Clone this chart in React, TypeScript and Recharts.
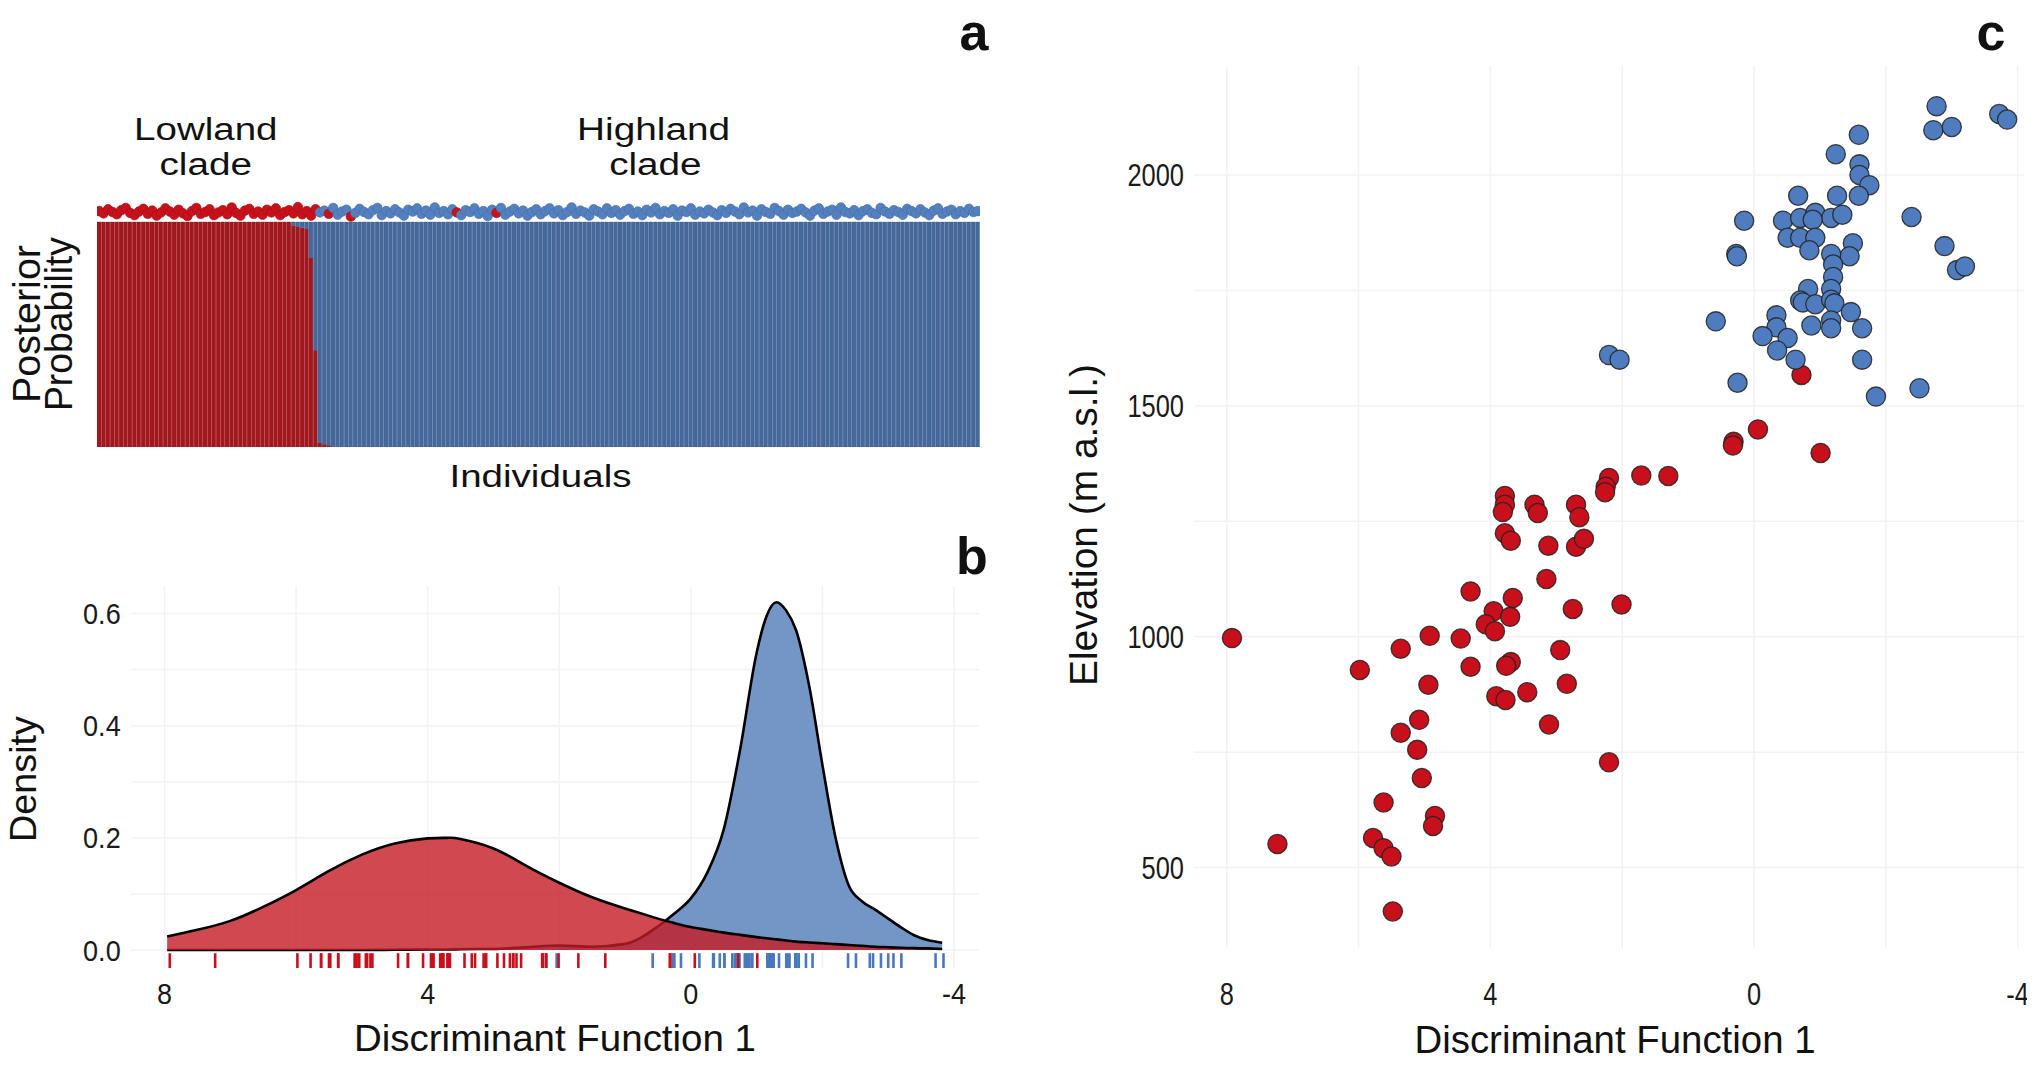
import React from 'react';
import { ComposedChart, ScatterChart, Bar, Scatter, Area, XAxis, YAxis, CartesianGrid } from 'recharts';

// ---------- Panel a: posterior probability per individual ----------
const lowlandProb: number[] = [
  1, 1, 1, 1, 1, 1, 1, 1, 1, 1, 1, 1, 1, 1, 1, 1, 1, 1, 1, 1,
  1, 1, 1, 1, 1, 1, 1, 1, 1, 1, 1, 1, 1, 1, 1, 1, 1, 1, 1, 1,
  1, 1, 1, 1, 0.985, 0.98, 0.975, 0.97, 0.84, 0.43, 0.02, 0.012, 0.008, 0, 0, 0, 0, 0, 0, 0,
  0, 0, 0, 0, 0, 0, 0, 0, 0, 0, 0, 0, 0, 0, 0, 0, 0, 0, 0, 0,
  0, 0, 0, 0, 0, 0, 0, 0, 0, 0, 0, 0, 0, 0, 0, 0, 0, 0, 0, 0,
  0, 0, 0, 0, 0, 0, 0, 0, 0, 0, 0, 0, 0, 0, 0, 0, 0, 0, 0, 0,
  0, 0, 0, 0, 0, 0, 0, 0, 0, 0, 0, 0, 0, 0, 0, 0, 0, 0, 0, 0,
  0, 0, 0, 0, 0, 0, 0, 0, 0, 0, 0, 0, 0, 0, 0, 0, 0, 0, 0, 0,
  0, 0, 0, 0, 0, 0, 0, 0, 0, 0, 0, 0, 0, 0, 0, 0, 0, 0, 0, 0,
  0, 0, 0, 0, 0, 0, 0, 0, 0, 0, 0, 0, 0, 0, 0, 0, 0, 0, 0, 0,
];

const individualClade: string =
  'LLLLLLLLLL' + 'LLLLLLLLLL' + 'LLLLLLLLLL' + 'LLLLLLLLLL' + 'LLLLLLLLLL' +
  'HHLHHHHLHH' + 'HHHHHHHHHH' + 'HHHHHHHHHH' + 'HLHHHHHHHH' + 'LHHHHHHHHH' +
  'HHHHHHHHHH' + 'HHHHHHHHHH' + 'HHHHHHHHHH' + 'HHHHHHHHHH' + 'HHHHHHHHHH' +
  'HHHHHHHHHH' + 'HHHHHHHHHH' + 'HHHHHHHHHH' + 'HHHHHHHHHH' + 'HHHHHHHHHH';

const dotLevel: number[] = [
  1.046, 1.041, 1.050, 1.044, 1.039, 1.048, 1.053, 1.042, 1.037, 1.045, 1.051, 1.040, 1.047, 1.036, 1.043, 1.052, 1.045, 1.038, 1.049, 1.041,
  1.035, 1.046, 1.053, 1.040, 1.044, 1.050, 1.037, 1.043, 1.048, 1.039, 1.054, 1.042, 1.036, 1.047, 1.051, 1.040, 1.045, 1.038, 1.049, 1.043,
  1.052, 1.037, 1.044, 1.048, 1.041, 1.055, 1.039, 1.046, 1.036, 1.050, 1.043, 1.047, 1.040, 1.053, 1.038, 1.045, 1.049, 1.034, 1.042, 1.051,
  1.044, 1.039, 1.048, 1.053, 1.037, 1.046, 1.041, 1.050, 1.043, 1.036, 1.049, 1.045, 1.052, 1.040, 1.047, 1.038, 1.054, 1.042, 1.046, 1.039,
  1.050, 1.043, 1.037, 1.048, 1.044, 1.052, 1.040, 1.046, 1.035, 1.049, 1.042, 1.053, 1.038, 1.045, 1.051, 1.041, 1.047, 1.036, 1.044, 1.050,
  1.039, 1.046, 1.052, 1.041, 1.048, 1.037, 1.044, 1.054, 1.040, 1.047, 1.043, 1.036, 1.050, 1.045, 1.039, 1.052, 1.042, 1.048, 1.038, 1.046,
  1.051, 1.040, 1.045, 1.037, 1.049, 1.043, 1.053, 1.039, 1.046, 1.042, 1.050, 1.036, 1.047, 1.044, 1.052, 1.038, 1.045, 1.041, 1.049, 1.043,
  1.037, 1.048, 1.042, 1.051, 1.045, 1.039, 1.054, 1.043, 1.047, 1.036, 1.050, 1.044, 1.040, 1.053, 1.046, 1.038, 1.049, 1.042, 1.045, 1.051,
  1.043, 1.036, 1.047, 1.052, 1.040, 1.045, 1.049, 1.038, 1.054, 1.044, 1.041, 1.048, 1.037, 1.046, 1.050, 1.042, 1.039, 1.053, 1.045, 1.040,
  1.048, 1.044, 1.038, 1.051, 1.046, 1.041, 1.050, 1.043, 1.037, 1.047, 1.052, 1.040, 1.045, 1.049, 1.039, 1.046, 1.042, 1.051, 1.044, 1.046,
];

// ---------- Panel b: density along Discriminant Function 1 ----------
const densityDF: number[] = [7.96, 7.5, 7.0, 6.5, 6.0, 5.5, 5.0, 4.5, 4.0, 3.7, 3.5, 3.0, 2.5, 2.0, 1.5, 1.0, 0.5, 0.25, 0, -0.25, -0.5, -0.75, -1.0, -1.15, -1.3, -1.45, -1.6, -1.8, -2.0, -2.2, -2.4, -2.6, -2.8, -3.0, -3.2, -3.4, -3.6, -3.82];
const lowlandDensity: number[] = [0.024, 0.036, 0.052, 0.077, 0.107, 0.141, 0.170, 0.190, 0.199, 0.200, 0.198, 0.181, 0.150, 0.120, 0.094, 0.074, 0.056, 0.048, 0.041, 0.036, 0.031, 0.027, 0.023, 0.021, 0.019, 0.017, 0.015, 0.0135, 0.012, 0.0105, 0.009, 0.0075, 0.006, 0.005, 0.004, 0.0035, 0.003, 0.002];
const highlandDensity: number[] = [0, 0, 0, 0, 0, 0, 0, 0.0005, 0.001, 0.001, 0.0015, 0.002, 0.005, 0.008, 0.006, 0.011, 0.042, 0.065, 0.092, 0.138, 0.215, 0.358, 0.53, 0.595, 0.62, 0.605, 0.57, 0.47, 0.33, 0.2, 0.115, 0.087, 0.072, 0.056, 0.04, 0.026, 0.018, 0.013];
const densityXTicks = [8, 4, 0, -4];
const densityYTicks = [0, 0.2, 0.4, 0.6];
const densityGridY = [0, 0.1, 0.2, 0.3, 0.4, 0.5, 0.6];
const dfGridX = [8, 6, 4, 2, 0, -2, -4];

// ---------- Panel c: DF1 vs elevation ----------
const lowlandDF: number[] = [-0.72, -0.06, 0.31, 0.32, -1.01, 1.71, 1.30, 2.20, 2.25, 2.26, 3.78, 3.78, 3.81, 3.33, 3.28, 2.70, 2.65, 3.78, 3.69, 3.12, 2.70, 2.58, 3.15, 4.30, 3.66, 2.75, 2.01, 3.95, 3.70, 4.07, 3.93, 7.92, 4.92, 4.45, 5.36, 2.94, 5.98, 4.30, 3.69, 3.76, 4.94, 2.84, 3.91, 3.77, 3.44, 5.08, 3.11, 5.36, 5.11, 2.20, 5.04, 5.62, 4.84, 4.87, 7.23, 5.78, 5.62, 5.50, 5.48];
const lowlandElev: number[] = [1567, 1449, 1422, 1414, 1398, 1349, 1348, 1344, 1325, 1313, 1305, 1286, 1270, 1286, 1268, 1286, 1259, 1224, 1208, 1197, 1195, 1212, 1125, 1098, 1084, 1060, 1070, 1055, 1043, 1027, 1012, 997, 1002, 996, 974, 971, 928, 935, 945, 937, 896, 898, 871, 863, 880, 820, 810, 792, 755, 728, 694, 641, 612, 590, 551, 564, 542, 524, 405];
const highlandDF: number[] = [-2.77, -2.72, -3.0, -3.72, -3.84, -1.59, -1.24, -1.60, -1.60, -1.75, -0.67, -1.26, -1.59, 0.15, -0.44, -0.70, -0.93, -1.17, -1.34, -0.89, -0.51, -0.70, -0.93, -0.84, -1.50, -1.45, -1.17, 0.27, 0.26, -2.39, -2.89, -3.08, -3.20, -1.20, -1.20, -1.17, -0.82, -0.70, -0.74, -0.93, -1.17, -1.22, 0.58, -0.34, -0.34, -0.13, -0.51, -0.87, -1.17, -1.17, -1.47, -1.64, -0.35, -0.63, -1.64, 2.20, 2.04, 0.25, -1.85, -2.51];
const highlandElev: number[] = [2149, 2097, 2104, 2132, 2120, 2087, 2045, 2023, 2000, 1978, 1955, 1955, 1955, 1901, 1901, 1907, 1918, 1907, 1914, 1903, 1864, 1864, 1864, 1837, 1852, 1824, 1829, 1829, 1824, 1909, 1846, 1794, 1802, 1806, 1779, 1753, 1753, 1728, 1724, 1720, 1730, 1722, 1683, 1696, 1670, 1651, 1647, 1674, 1685, 1668, 1703, 1668, 1620, 1600, 1600, 1610, 1600, 1550, 1520, 1538];
const elevTicks = [500, 1000, 1500, 2000];
const elevGrid = [500, 750, 1000, 1250, 1500, 1750, 2000];

// ---------- tables built from the arrays ----------
const individuals = lowlandProb.map((p, i) => ({
  id: i,
  lowland: p,
  highland: 1 - p,
  dot: dotLevel[i],
  clade: individualClade[i],
}));
const densityRows = densityDF.map((d, i) => ({ df: d, red: lowlandDensity[i], blue: highlandDensity[i] }));
const RUG_LEVEL = -0.019;
const rugRed = lowlandDF.map((d) => ({ df: d, rug: RUG_LEVEL }));
const rugBlue = highlandDF.map((d) => ({ df: d, rug: RUG_LEVEL }));
const ptsRed = lowlandDF.map((d, i) => ({ df: d, elev: lowlandElev[i] }));
const ptsBlue = highlandDF.map((d, i) => ({ df: d, elev: highlandElev[i] }));

// ---------- styling ----------
const BAR_RED = '#a3181e';
const BAR_BLUE = '#46689b';
const DOT_RED = '#c8121b';
const DOT_BLUE = '#5580bf';
const PT_RED = '#c8101c';
const PT_BLUE = '#4f7cbe';
const GRID = '#f2f2f2';
const SANS = '"Liberation Sans", Arial, Helvetica, sans-serif';
const NARROW = '"Liberation Sans Narrow", "Arial Narrow", "Liberation Sans", Arial, sans-serif';

const charW: Record<string, number> = { '.': 0.228, '-': 0.273 };
const narrowWidth = (s: string, fs: number, sx: number) => {
  let w = 0;
  for (const ch of s) w += charW[ch] ?? 0.456;
  return w * fs * sx;
};

const makeTick = (fs: number, sx: number, fmt: (v: number) => string, axis: 'x' | 'y') => (props: any) => {
  const { x, y, payload, textAnchor } = props;
  const label = fmt(payload.value);
  return (
    <text
      x={x}
      y={y}
      dy={axis === 'x' ? '0.71em' : '0.355em'}
      textAnchor={textAnchor}
      fontSize={fs}
      fontFamily={NARROW}
      fill="#1a1a1a"
      textLength={narrowWidth(label, fs, sx)}
      lengthAdjust="spacingAndGlyphs"
    >
      {label}
    </text>
  );
};

const individualDot = (props: any) => {
  const { cx, cy, payload } = props;
  const isL = payload.clade === 'L';
  return <circle cx={cx} cy={cy} r={4.8} fill={isL ? DOT_RED : DOT_BLUE} stroke={isL ? '#a80f17' : '#4570ad'} strokeWidth={0.7} />;
};

const rugShape = (color: string) => (props: any) => {
  const { cx, cy } = props;
  return <line x1={cx} x2={cx} y1={cy - 7.5} y2={cy + 7.5} stroke={color} strokeWidth={2.6} />;
};

const pointShape = (color: string) => (props: any) => {
  const { cx, cy } = props;
  return <circle cx={cx} cy={cy} r={9.6} fill={color} stroke="#222" strokeOpacity={0.85} strokeWidth={1.3} />;
};

const T = (p: any) => <text fontFamily={SANS} fill="#111" {...p} />;

export default function App() {
  return (
    <div style={{ position: 'relative', width: 2035, height: 1065, margin: -8, overflow: 'hidden', background: '#fff' }}>
      {/* Panel a */}
      <div style={{ position: 'absolute', left: 97, top: 195 }}>
        <ComposedChart width={883} height={252} data={individuals} margin={{ top: 0, right: 0, bottom: 0, left: 0 }} barCategoryGap={0} barGap={0}>
          <XAxis dataKey="id" type="category" hide />
          <YAxis yAxisId="prob" type="number" domain={[0, 1.12]} hide allowDataOverflow />
          <YAxis yAxisId="dots" type="number" domain={[0.5218, 1.0818]} hide allowDataOverflow />
          <Bar yAxisId="prob" dataKey="lowland" stackId="p" fill={BAR_RED} stroke="#961419" strokeWidth={0.35} isAnimationActive={false} />
          <Bar yAxisId="prob" dataKey="highland" stackId="p" fill={BAR_BLUE} stroke="#3e5f91" strokeWidth={0.35} isAnimationActive={false} />
          <Scatter yAxisId="dots" dataKey="dot" shape={individualDot} isAnimationActive={false} />
        </ComposedChart>
      </div>

      {/* Panel b */}
      <div style={{ position: 'absolute', left: 0, top: 560 }}>
        <ComposedChart width={1000} height={500} data={densityRows} margin={{ top: 26.5, right: 21, bottom: 0, left: 0 }}>
          <CartesianGrid horizontalValues={densityGridY} verticalValues={dfGridX} stroke={GRID} strokeWidth={1.5} />
          <XAxis
            dataKey="df"
            type="number"
            domain={[-4.38, 8.514]}
            reversed
            allowDataOverflow
            ticks={densityXTicks}
            height={92}
            axisLine={false}
            tickLine={false}
            tickSize={0}
            tickMargin={15}
            tick={makeTick(30, 1.1, (v) => String(v), 'x')}
          />
          <YAxis
            type="number"
            domain={[-0.032, 0.648]}
            allowDataOverflow
            ticks={densityYTicks}
            width={130.7}
            axisLine={false}
            tickLine={false}
            tickSize={0}
            tickMargin={10}
            tick={makeTick(30, 1.1, (v) => v.toFixed(1), 'y')}
          />
          <Area dataKey="blue" type="monotone" baseValue={0} fill="#7396c6" fillOpacity={1} stroke="#000" strokeWidth={2.6} isAnimationActive={false} />
          <Area dataKey="red" type="natural" baseValue={0} fill="#c41a24" fillOpacity={0.8} stroke="#000" strokeWidth={2.6} isAnimationActive={false} />
          <Scatter data={rugBlue} dataKey="rug" shape={rugShape('#4a78bd')} isAnimationActive={false} />
          <Scatter data={rugRed} dataKey="rug" shape={rugShape('#c8101c')} isAnimationActive={false} />
        </ComposedChart>
      </div>

      {/* Panel c */}
      <div style={{ position: 'absolute', left: 1060, top: 40 }}>
        <ScatterChart width={975} height={1025} margin={{ top: 26, right: 11, bottom: 0, left: 0 }}>
          <CartesianGrid horizontalValues={elevGrid} verticalValues={dfGridX} stroke={GRID} strokeWidth={1.5} />
          <XAxis
            dataKey="df"
            type="number"
            domain={[-4.096, 8.496]}
            reversed
            allowDataOverflow
            ticks={densityXTicks}
            height={116}
            axisLine={false}
            tickLine={false}
            tickSize={0}
            tickMargin={34}
            tick={makeTick(31, 1.0, (v) => String(v), 'x')}
          />
          <YAxis
            dataKey="elev"
            type="number"
            domain={[323.7, 2236]}
            allowDataOverflow
            ticks={elevTicks}
            width={134}
            axisLine={false}
            tickLine={false}
            tickSize={0}
            tickMargin={10}
            tick={makeTick(31, 1.0, (v) => String(v), 'y')}
          />
          <Scatter data={ptsRed} shape={pointShape(PT_RED)} isAnimationActive={false} />
          <Scatter data={ptsBlue} shape={pointShape(PT_BLUE)} isAnimationActive={false} />
        </ScatterChart>
      </div>

      {/* Text overlay */}
      <svg width={2035} height={1065} style={{ position: 'absolute', left: 0, top: 0, pointerEvents: 'none' }}>
        <T x={974} y={50} fontSize={52} fontWeight="bold" textAnchor="middle">a</T>
        <T x={972} y={574} fontSize={52} fontWeight="bold" textAnchor="middle">b</T>
        <T x={1991} y={50} fontSize={52} fontWeight="bold" textAnchor="middle">c</T>

        <T x={205.8} y={140} fontSize={31} textAnchor="middle" textLength={143.5} lengthAdjust="spacingAndGlyphs">Lowland</T>
        <T x={205.7} y={175} fontSize={31} textAnchor="middle" textLength={92.5} lengthAdjust="spacingAndGlyphs">clade</T>
        <T x={653.6} y={140} fontSize={31} textAnchor="middle" textLength={153} lengthAdjust="spacingAndGlyphs">Highland</T>
        <T x={655.4} y={175} fontSize={31} textAnchor="middle" textLength={92.5} lengthAdjust="spacingAndGlyphs">clade</T>
        <T x={540.5} y={487} fontSize={31} textAnchor="middle" textLength={182} lengthAdjust="spacingAndGlyphs">Individuals</T>

        <T x={40} y={324} fontSize={38} textAnchor="middle" transform="rotate(-90 40 324)" textLength={158} lengthAdjust="spacingAndGlyphs">Posterior</T>
        <T x={72} y={324} fontSize={38} textAnchor="middle" transform="rotate(-90 72 324)" textLength={174} lengthAdjust="spacingAndGlyphs">Probability</T>

        <T x={36} y={779} fontSize={37} textAnchor="middle" transform="rotate(-90 36 779)" textLength={126} lengthAdjust="spacingAndGlyphs">Density</T>
        <T x={555} y={1051} fontSize={37} textAnchor="middle" textLength={402} lengthAdjust="spacingAndGlyphs">Discriminant Function 1</T>

        <T x={1097} y={525} fontSize={38} textAnchor="middle" transform="rotate(-90 1097 525)" textLength={322} lengthAdjust="spacingAndGlyphs">Elevation (m a.s.l.)</T>
        <T x={1615} y={1053} fontSize={38} textAnchor="middle" textLength={401} lengthAdjust="spacingAndGlyphs">Discriminant Function 1</T>
      </svg>
    </div>
  );
}
